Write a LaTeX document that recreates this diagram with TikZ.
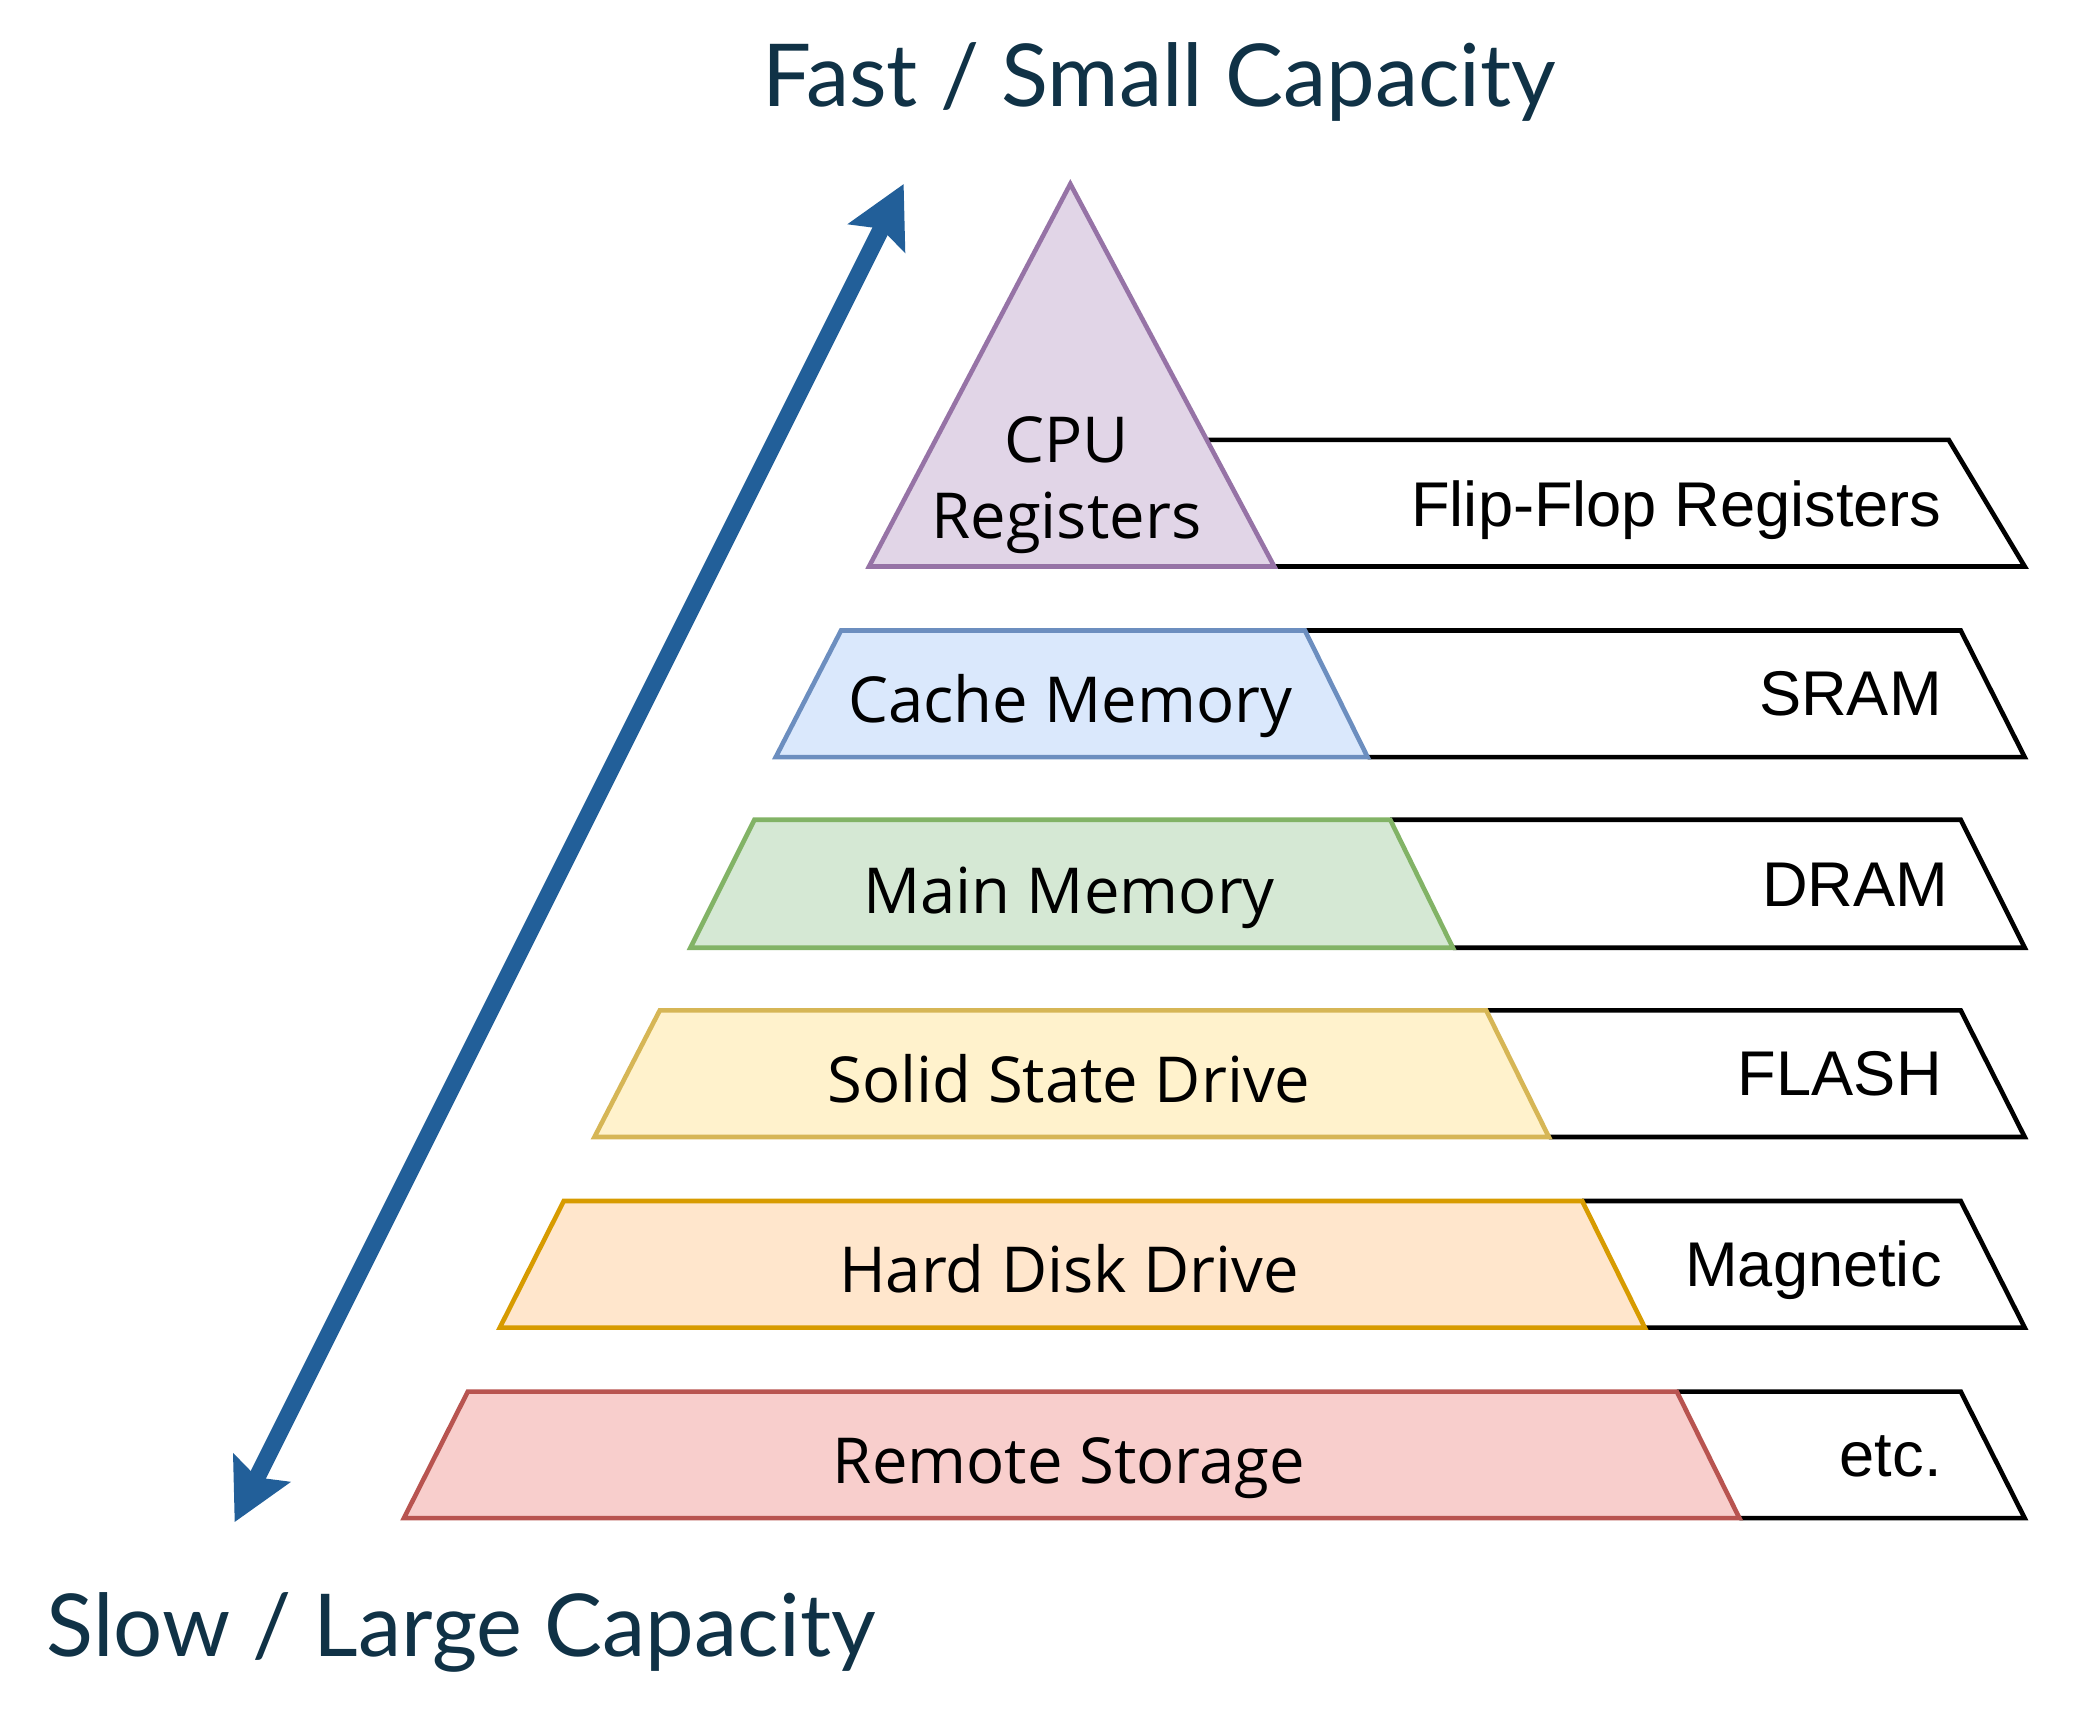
\documentclass[tikz,border=0pt]{standalone}
\usepackage{fontspec}
\usetikzlibrary{arrows.meta}
\newfontfamily\labfont{Open Sans}
\newfontfamily\techfont{Liberation Sans}
\newfontfamily\titfont{Lato}
\definecolor{titlecol}{HTML}{103246}
\definecolor{arrowcol}{HTML}{225F99}
\definecolor{purpleF}{HTML}{E1D5E7}\definecolor{purpleD}{HTML}{9673A6}
\definecolor{blueF}{HTML}{DAE8FC}\definecolor{blueD}{HTML}{6C8EBF}
\definecolor{greenF}{HTML}{D5E8D4}\definecolor{greenD}{HTML}{82B366}
\definecolor{yellowF}{HTML}{FFF2CC}\definecolor{yellowD}{HTML}{D6B656}
\definecolor{orangeF}{HTML}{FFE6CC}\definecolor{orangeD}{HTML}{D79B00}
\definecolor{redF}{HTML}{F8CECC}\definecolor{redD}{HTML}{B85450}
\tikzset{
  layer/.style={line width=2.3pt, line join=miter},
  techbox/.style={line width=2.3pt, draw=black, line join=miter},
  lablabel/.style={font=\labfont\fontsize{31.7pt}{38pt}\selectfont, inner sep=0pt, anchor=base},
  techlabel/.style={font=\techfont\fontsize{31.6pt}{37pt}\selectfont, inner sep=0pt, anchor=base east},
  titlelabel/.style={font=\titfont\fontsize{43.4pt}{50pt}\selectfont, text=titlecol, inner sep=0pt, anchor=base},
}
\begin{document}
\begin{tikzpicture}[x=0.66645pt, y=-0.66645pt]
\useasboundingbox (0,0) rectangle (1568,1296);
% right boxes (behind)
\draw[techbox] (905,330) -- (1462,330) -- (1519,425) -- (956,425);
\draw[techbox] (979,473) -- (1471,473) -- (1519,568) -- (1026,568);
\draw[techbox] (1043,615) -- (1471,615) -- (1519,711) -- (1090,711);
\draw[techbox] (1115,758) -- (1471,758) -- (1519,853) -- (1162,853);
\draw[techbox] (1187,901) -- (1471,901) -- (1519,996) -- (1234,996);
\draw[techbox] (1258,1044) -- (1471,1044) -- (1519,1139) -- (1305,1139);
% colored layers
\filldraw[layer, fill=purpleF, draw=purpleD] (803,138) -- (956,425) -- (652,425) -- cycle;
\filldraw[layer, fill=blueF, draw=blueD] (631,473) -- (979,473) -- (1026,568) -- (582,568) -- cycle;
\filldraw[layer, fill=greenF, draw=greenD] (566,615) -- (1043,615) -- (1090,711) -- (518,711) -- cycle;
\filldraw[layer, fill=yellowF, draw=yellowD] (495,758) -- (1115,758) -- (1162,853) -- (446,853) -- cycle;
\filldraw[layer, fill=orangeF, draw=orangeD] (423,901) -- (1187,901) -- (1234,996) -- (375,996) -- cycle;
\filldraw[layer, fill=redF, draw=redD] (351,1044) -- (1258,1044) -- (1305,1139) -- (303,1139) -- cycle;
% left labels
\node[lablabel] (cpu) at (800,347) {CPU};
\node[lablabel] (reg) at (800,404) {Registers};
\node[lablabel] (cache) at (803,542) {Cache Memory};
\node[lablabel] (main) at (802,685) {Main Memory};
\node[lablabel] (ssd) at (802,827) {Solid State Drive};
\node[lablabel] (hdd) at (802,970) {Hard Disk Drive};
\node[lablabel] (remote) at (802,1113) {Remote Storage};
% right labels
\node[techlabel] (ff) at (1457,395) {Flip-Flop Registers};
\node[techlabel] (sram) at (1457,537) {SRAM};
\node[techlabel] (dram) at (1462,680) {DRAM};
\node[techlabel] (flash) at (1457,822) {FLASH};
\node[techlabel] (magn) at (1457,965) {Magnetic};
\node[techlabel] (etc) at (1457,1108) {etc.};
% titles
\node[titlelabel] (fast) at (870,80) {Fast / Small Capacity};
\node[titlelabel] (slow) at (346,1243) {Slow / Large Capacity};
% arrow
\coordinate (atop) at (678,138);
\coordinate (abot) at (176,1142);
\draw[arrowcol, line width=8.5pt, {Stealth[length=30pt,width=31pt,inset=5pt]}-{Stealth[length=30pt,width=31pt,inset=5pt]}] (abot) -- (atop);
\end{tikzpicture}
\end{document}
